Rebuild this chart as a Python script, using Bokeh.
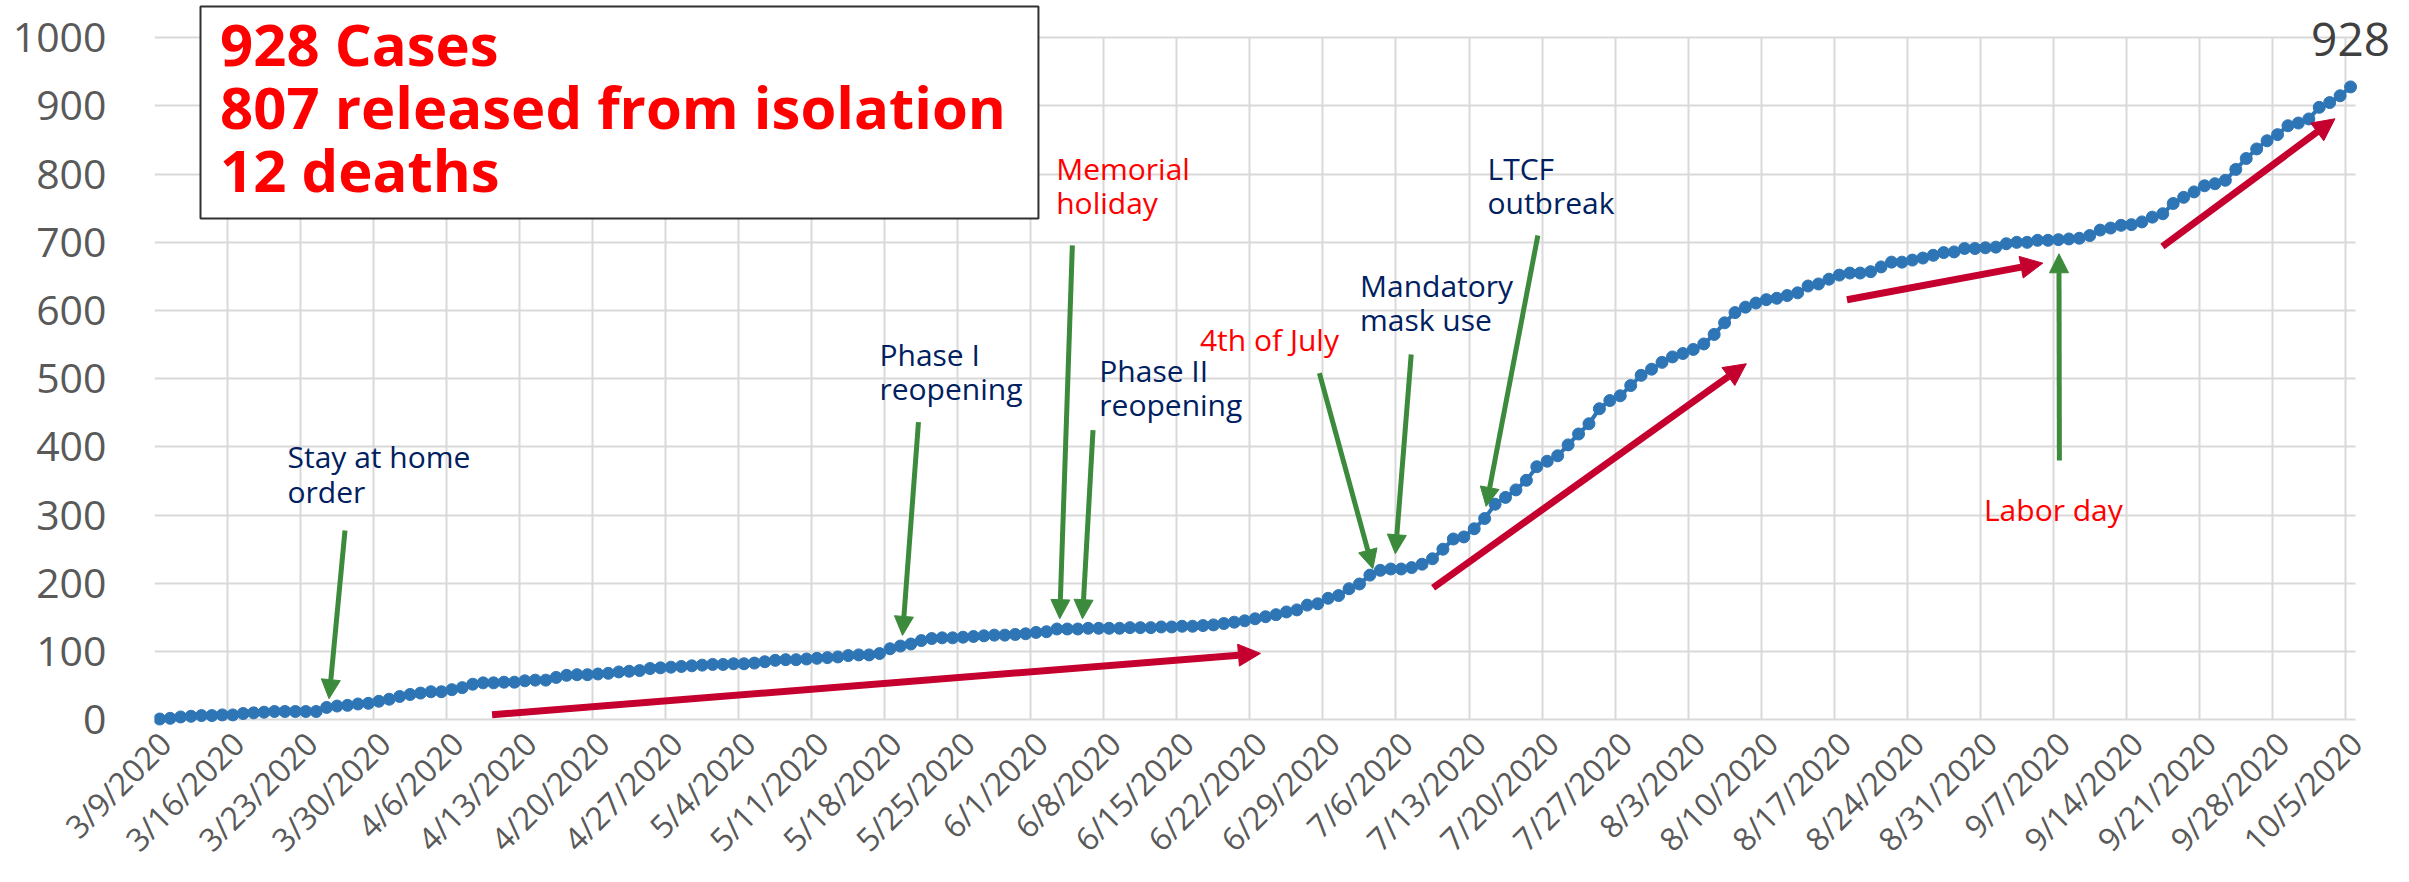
import math
import numpy as np
from bokeh.plotting import figure
from bokeh.models import (Range1d, FixedTicker, Arrow, NormalHead,
                          ColumnDataSource, Label, BoxAnnotation)
from bokeh.embed import file_html
from bokeh.resources import INLINE

# ---------------- data ----------------
# cumulative cases, one value per day from 3/9/2020 to 10/5/2020
cases = [
    1, 2, 4, 5, 6, 6, 7, 7, 9, 10, 11, 12, 12, 12, 12, 12,
    18, 20, 21, 23, 24, 27, 30, 34, 37,
    39, 41, 41, 44, 47, 52, 54, 54, 55, 55, 57, 58, 58, 62, 65, 66, 66, 67, 68, 70, 71, 72, 75,
    76, 77, 78, 79, 80, 81, 81, 82, 82, 83, 85, 87, 88, 88, 89, 90, 91, 92, 94, 95, 95, 97, 104, 108, 111, 116,
    119, 120, 120, 121, 122, 123, 124, 124, 125, 126, 128, 129, 133, 133, 133, 134, 134, 134, 134, 135, 135, 135,
    136, 136, 137, 137, 138, 139, 141, 143,
    145, 148, 151, 154, 158, 161, 168, 170, 178, 182, 192, 199, 212, 219, 221, 221, 223, 228, 236, 250, 265, 268,
    280, 295,
    316, 326, 337, 351, 371, 379, 387, 403, 419, 434, 456, 468, 475, 490, 505, 514, 524, 532, 537, 543, 551, 565, 582,
    597, 605, 611, 616, 618, 622, 626, 636, 639, 646, 652, 655, 655, 657, 664, 671, 671, 674, 677, 681, 685, 686,
    691, 691, 692, 693, 698, 700, 700, 703, 703,
    704, 705, 706, 710, 718, 721, 725, 726, 730, 737, 742, 757, 766, 774, 783, 786, 791, 807, 823, 837, 849, 858,
    871, 875, 881, 898, 905, 915, 928,
]

tick_labels = [
    "3/9/2020", "3/16/2020", "3/23/2020", "3/30/2020", "4/6/2020", "4/13/2020", "4/20/2020",
    "4/27/2020", "5/4/2020", "5/11/2020", "5/18/2020", "5/25/2020", "6/1/2020", "6/8/2020",
    "6/15/2020", "6/22/2020", "6/29/2020", "7/6/2020", "7/13/2020", "7/20/2020", "7/27/2020",
    "8/3/2020", "8/10/2020", "8/17/2020", "8/24/2020", "8/31/2020", "9/7/2020", "9/14/2020",
    "9/21/2020", "9/28/2020", "10/5/2020",
]
y_ticks = list(range(0, 1001, 100))

summary_lines = ["928 Cases", "807 released from isolation", "12 deaths"]

# event annotations: text lines, colour
events = [
    (["Stay at home", "order"], "navy"),
    (["Phase I", "reopening"], "navy"),
    (["Memorial", "holiday"], "red"),
    (["Phase II", "reopening"], "navy"),
    (["4th of July"], "red"),
    (["Mandatory", "mask use"], "navy"),
    (["LTCF", "outbreak"], "navy"),
    (["Labor day"], "red"),
]

# ---------------- layout / styles ----------------
NAVY = "#002060"
RED = "#FF0000"
GREEN = "#3C8A3C"
CRIMSON = "#C5002F"
BLUE = "#2E75B6"
GRID = "#D9D9D9"
AXIS_TXT = "#595959"
FONT = "Open Sans"
BASE_FIX = 0.38  # baseline correction (fraction of font size)

n = len(cases)
xs = np.arange(n) + 0.5
grid_pos = [7 * k for k in range(len(tick_labels))]
label_pos = [7 * k + 1 for k in range(len(tick_labels))]

p = figure(width=2409, height=882,
           x_range=Range1d(0, 215), y_range=Range1d(-10, 1054.7),
           output_backend="svg", toolbar_location=None,
           min_border_left=154, min_border_right=12,
           min_border_top=0, min_border_bottom=156)
p.outline_line_color = None
p.background_fill_color = "white"
p.border_fill_color = "white"

xa = p.xaxis[0]
xa.ticker = FixedTicker(ticks=label_pos)
xa.major_label_overrides = {t: l for t, l in zip(label_pos, tick_labels)}
xa.major_label_orientation = math.pi / 4
xa.major_label_text_font = FONT
xa.major_label_text_font_size = "32px"
xa.major_label_text_color = AXIS_TXT
xa.major_label_standoff = 11
xa.axis_line_color = None
xa.major_tick_line_color = None
xa.minor_tick_line_color = None
xa.major_tick_out = 0
xa.major_tick_in = 0

ya = p.yaxis[0]
ya.ticker = FixedTicker(ticks=y_ticks)
ya.major_label_text_font = FONT
ya.major_label_text_font_size = "41px"
ya.major_label_text_color = AXIS_TXT
ya.major_label_standoff = 48
ya.axis_line_color = None
ya.major_tick_line_color = None
ya.minor_tick_line_color = None
ya.major_tick_out = 0
ya.major_tick_in = 0

p.xgrid.ticker = FixedTicker(ticks=grid_pos)
p.ygrid.ticker = FixedTicker(ticks=y_ticks)
p.xgrid.grid_line_color = GRID
p.ygrid.grid_line_color = GRID
p.xgrid.grid_line_width = 2
p.ygrid.grid_line_width = 2
p.xgrid.cross_bounds = (0, 1000)
p.ygrid.cross_bounds = (0, n)

src = ColumnDataSource(dict(x=xs, y=cases))
p.line("x", "y", source=src, line_color=BLUE, line_width=4)
p.scatter("x", "y", source=src, size=12, fill_color=BLUE, line_color=BLUE)

# summary box
p.add_layout(BoxAnnotation(left=4.41, right=84.73, top=1045.9, bottom=735.0,
                           fill_color="white", fill_alpha=1.0,
                           line_color="#303030", line_width=2, line_alpha=1.0))
for line_txt, yb in zip(summary_lines, [959.4, 867.1, 774.8]):
    p.add_layout(Label(x=6.29, y=yb, y_offset=BASE_FIX * 58, text=line_txt,
                       text_font=FONT, text_font_style="bold", text_font_size="58px",
                       text_color=RED, text_baseline="alphabetic"))

# final value label
p.add_layout(Label(x=xs[-1], y=cases[-1], y_offset=30 + BASE_FIX * 46, text=str(cases[-1]),
                   text_font=FONT, text_font_size="46px", text_color="#404040",
                   text_align="center", text_baseline="alphabetic"))

# event labels (x, first-line baseline)
event_pos = [(12.75, 368.6), (69.49, 519.5), (86.43, 791.1), (90.56, 495.0),
             (100.21, 541.5), (115.55, 619.6), (127.77, 791.1), (175.36, 291.2)]
line_step = 50.0
for (lines, col), (ex, ey) in zip(events, event_pos):
    c = NAVY if col == "navy" else RED
    for k, t in enumerate(lines):
        p.add_layout(Label(x=ex, y=ey - k * line_step, y_offset=BASE_FIX * 30, text=t,
                           text_font=FONT, text_font_size="30px", text_color=c,
                           text_baseline="alphabetic"))

# green arrows (start -> tip)
green_arrows = [
    (18.26, 277.6, 16.73, 30.8),
    (73.23, 436.4, 71.70, 123.6),
    (87.98, 695.5, 86.77, 148.1),
    (89.96, 424.8, 88.95, 148.1),
    (111.66, 508.2, 116.78, 221.4),
    (120.46, 535.6, 118.94, 243.4),
    (132.60, 710.1, 127.64, 312.8),
    (182.59, 380.2, 182.55, 683.3),
]
for x0, y0, x1, y1 in green_arrows:
    p.add_layout(Arrow(end=NormalHead(size=19, fill_color=GREEN, line_color=GREEN),
                       x_start=x0, y_start=y0, x_end=x1, y_end=y1,
                       line_color=GREEN, line_width=5))

# red trend arrows
red_arrows = [
    (32.36, 7.2, 106.01, 97.2),
    (122.56, 193.5, 152.58, 522.0),
    (162.23, 615.8, 181.0, 669.5),
    (192.47, 694.0, 209.0, 881.2),
]
for x0, y0, x1, y1 in red_arrows:
    p.add_layout(Arrow(end=NormalHead(size=22, fill_color=CRIMSON, line_color=CRIMSON),
                       x_start=x0, y_start=y0, x_end=x1, y_end=y1,
                       line_color=CRIMSON, line_width=7))

open("out.html", "w").write(file_html(p, INLINE))
